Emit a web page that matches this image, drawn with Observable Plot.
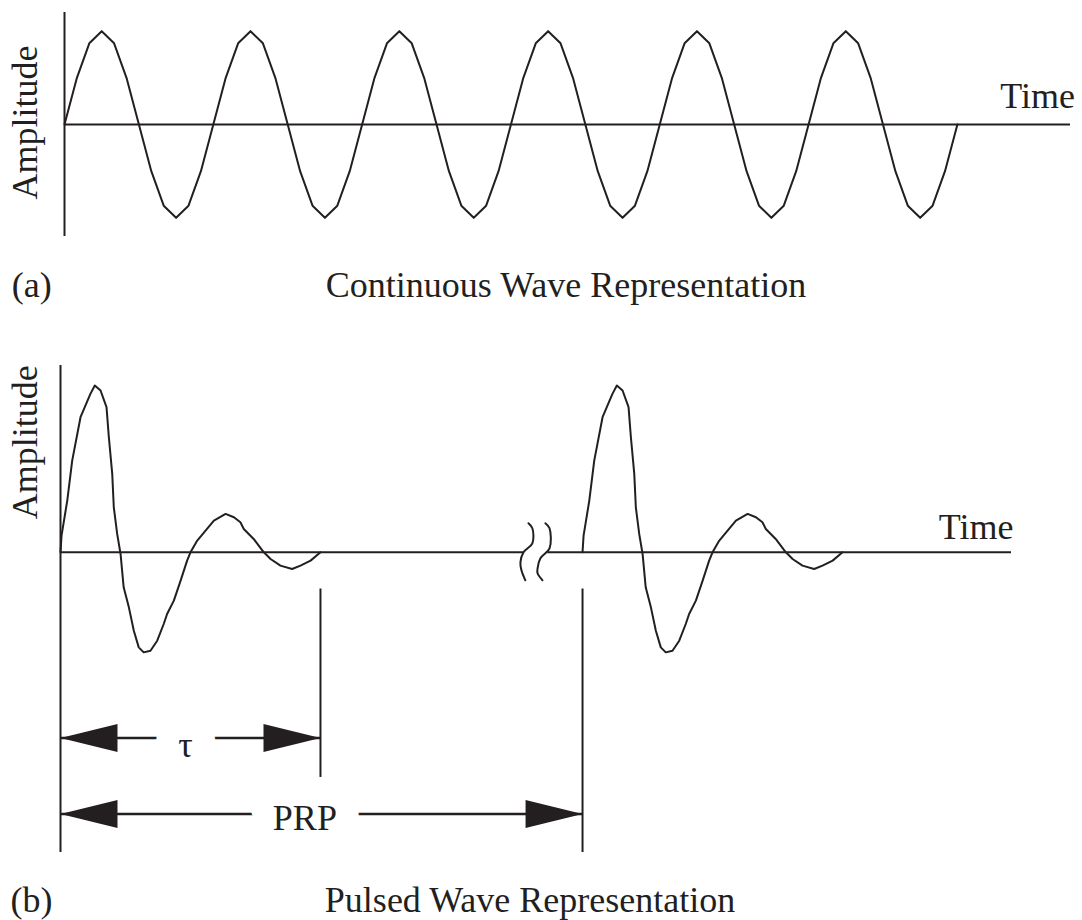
<!DOCTYPE html>
<html><head><meta charset="utf-8">
<script src="https://cdn.jsdelivr.net/npm/d3@7"></script>
<script src="https://cdn.jsdelivr.net/npm/@observablehq/plot@0.6"></script>
<style>
html,body{margin:0;padding:0;background:#fff;}
#chart svg{display:block;}
</style></head><body><div id="chart"></div>
<script>
// ---------------- data ----------------
// (a) continuous wave: amplitude samples, 12 per cycle, 6 cycles
const cwSamplesPerCycle = 12;
const cwAmplitude = [
  0, 0.5, 0.87, 1, 0.87, 0.5, 0, -0.5, -0.87, -1, -0.87, -0.5,
  0, 0.5, 0.87, 1, 0.87, 0.5, 0, -0.5, -0.87, -1, -0.87, -0.5,
  0, 0.5, 0.87, 1, 0.87, 0.5, 0, -0.5, -0.87, -1, -0.87, -0.5,
  0, 0.5, 0.87, 1, 0.87, 0.5, 0, -0.5, -0.87, -1, -0.87, -0.5,
  0, 0.5, 0.87, 1, 0.87, 0.5, 0, -0.5, -0.87, -1, -0.87, -0.5,
  0, 0.5, 0.87, 1, 0.87, 0.5, 0, -0.5, -0.87, -1, -0.87, -0.5,
  0
];
const cwTimeEnd = 6.76;

// (b) one pulse (time units, pulse width tau = 10)
const pulseTime = [0, 0.04, 0.26, 0.45, 0.77, 1.15, 1.32, 1.54, 1.77, 1.86, 1.99, 2.05, 2.18, 2.31,
  2.43, 2.63, 2.82, 3.01, 3.20, 3.46, 3.72, 3.97, 4.10, 4.36, 4.62, 4.87, 5.00, 5.26, 5.58, 5.90,
  6.35, 6.67, 6.92, 7.05, 7.43, 7.82, 8.08, 8.46, 8.91, 9.23, 9.62, 10.0];
const pulseAmp = [0, 0.10, 0.31, 0.55, 0.81, 0.95, 1.00, 0.97, 0.87, 0.69, 0.47, 0.27, 0.11, -0.01,
  -0.21, -0.33, -0.47, -0.57, -0.60, -0.59, -0.53, -0.43, -0.37, -0.29, -0.17, -0.05, 0.00, 0.07, 0.13, 0.19,
  0.23, 0.21, 0.18, 0.14, 0.08, 0.00, -0.04, -0.08, -0.10, -0.08, -0.05, 0.00];
const pulseWidth = 10;     // tau
const prp = 20.08;         // pulse repetition period (drawn with a break)
const pulseStarts = [0, prp];
const pbTimeEnd = 36.58;
const breakGap = [17.81, 18.75];
const breakLeftT = [18.0, 18.15, 18.15, 17.81, 17.69, 17.73, 17.88];
const breakLeftA = [0.174, 0.144, 0.054, 0, -0.06, -0.108, -0.168];
const breakRightT = [18.65, 18.81, 18.81, 18.46, 18.35, 18.35, 18.54];
const breakRightA = [0.174, 0.144, 0.024, -0.036, -0.096, -0.126, -0.168];

// text
const axisLabels = ["Amplitude", "Time"];
const panelTags = ["(a)", "(b)"];
const panelTitles = ["Continuous Wave Representation", "Pulsed Wave Representation"];
const dimLabels = ["τ", "PRP"];
const dimEnds = [pulseWidth, prp];

// ---------------- styling / layout ----------------
const ink = "#231f20";
const font = "'Liberation Serif', 'Times New Roman', serif";
const fs = 36;
const lw = 2;

const cw = cwAmplitude.map((a, i) => ({t: i / cwSamplesPerCycle, a}));
const pulses = pulseStarts.flatMap((s, k) => pulseTime.map((t, i) => ({t: s + t, a: pulseAmp[i], k})));
const breaks = [
  ...breakLeftT.map((t, i) => ({t, a: breakLeftA[i], k: 0})),
  ...breakRightT.map((t, i) => ({t, a: breakRightA[i], k: 1}))
];
const dims = dimLabels.map((label, i) => ({label, end: dimEnds[i]}));
const dimRowY = [-1.114, -1.569];
const dimLabelY = [-1.159, -1.596];
const dimLabelT = [4.81, 9.4];

const arrowHead = {
  draw(ctx) { const L = 57, H = 14; ctx.moveTo(0, 0); ctx.lineTo(L, -H); ctx.lineTo(L, H); ctx.closePath(); }
};

const plotA = Plot.plot({
  width: 1082, height: 320,
  marginTop: 12, marginBottom: 84, marginLeft: 64, marginRight: 12,
  x: {domain: [0, cwTimeEnd], axis: null},
  y: {domain: [-1.2, 1.2], axis: null},
  style: {fontFamily: font, color: ink, background: "white", overflow: "visible"},
  marks: [
    Plot.ruleX([0], {y1: -1.2, y2: 1.2, stroke: ink, strokeWidth: lw}),
    Plot.ruleY([0], {x1: 0, x2: cwTimeEnd, stroke: ink, strokeWidth: lw}),
    Plot.line(cw, {x: "t", y: "a", stroke: ink, strokeWidth: lw, strokeLinejoin: "round"}),
    Plot.text([axisLabels[0]], {x: -0.262, y: 0.02, rotate: -90, fontSize: fs, fill: ink}),
    Plot.text([axisLabels[1]], {x: 6.79, y: 0.305, textAnchor: "end", fontSize: fs, fill: ink}),
    Plot.text([panelTags[0]], {x: -0.22, y: -1.72, fontSize: fs, fill: ink}),
    Plot.text([panelTitles[0]], {x: 3.37, y: -1.72, fontSize: fs, fill: ink})
  ]
});

const plotB = Plot.plot({
  width: 1082, height: 600,
  marginTop: 45, marginBottom: 68, marginLeft: 60, marginRight: 71,
  x: {domain: [0, pbTimeEnd], axis: null},
  y: {domain: [-1.80, 1.12], axis: null},
  style: {fontFamily: font, color: ink, background: "white", overflow: "visible"},
  marks: [
    Plot.ruleX([0], {y1: -1.80, y2: 1.12, stroke: ink, strokeWidth: lw}),
    Plot.ruleY([0], {x1: 0, x2: breakGap[0], stroke: ink, strokeWidth: lw}),
    Plot.ruleY([0], {x1: breakGap[1], x2: pbTimeEnd, stroke: ink, strokeWidth: lw}),
    Plot.line(breaks, {x: "t", y: "a", z: "k", curve: "catmull-rom", stroke: ink, strokeWidth: lw}),
    Plot.line(pulses, {x: "t", y: "a", z: "k", stroke: ink, strokeWidth: lw, strokeLinejoin: "round"}),
    // extension lines
    Plot.ruleX([pulseWidth], {y1: -0.22, y2: -1.35, stroke: ink, strokeWidth: lw}),
    Plot.ruleX([prp], {y1: -0.22, y2: -1.80, stroke: ink, strokeWidth: lw}),
    // dimension shafts
    Plot.ruleY(dims, {x1: 0, x2: "end", y: (d, i) => dimRowY[i], stroke: ink, strokeWidth: 2.5}),
    Plot.dot(dims, {x: 0, y: (d, i) => dimRowY[i], symbol: arrowHead, fill: ink, stroke: "none"}),
    Plot.dot(dims, {x: "end", y: (d, i) => dimRowY[i], symbol: arrowHead, rotate: 180, fill: ink, stroke: "none"}),
    Plot.text(dims, {x: (d, i) => dimLabelT[i], y: (d, i) => dimLabelY[i], text: "label", fontSize: fs,
      fill: ink, stroke: "white", strokeWidth: 46, strokeLinejoin: "round"}),
    Plot.text([axisLabels[0]], {x: -1.35, y: 0.66, rotate: -90, fontSize: fs, fill: ink}),
    Plot.text([axisLabels[1]], {x: 36.66, y: 0.147, textAnchor: "end", fontSize: fs, fill: ink}),
    Plot.text([panelTags[1]], {x: -1.12, y: -2.087, fontSize: fs, fill: ink}),
    Plot.text([panelTitles[1]], {x: 18.06, y: -2.087, fontSize: fs, fill: ink})
  ]
});

document.getElementById("chart").append(plotA, plotB);
</script></body></html>
